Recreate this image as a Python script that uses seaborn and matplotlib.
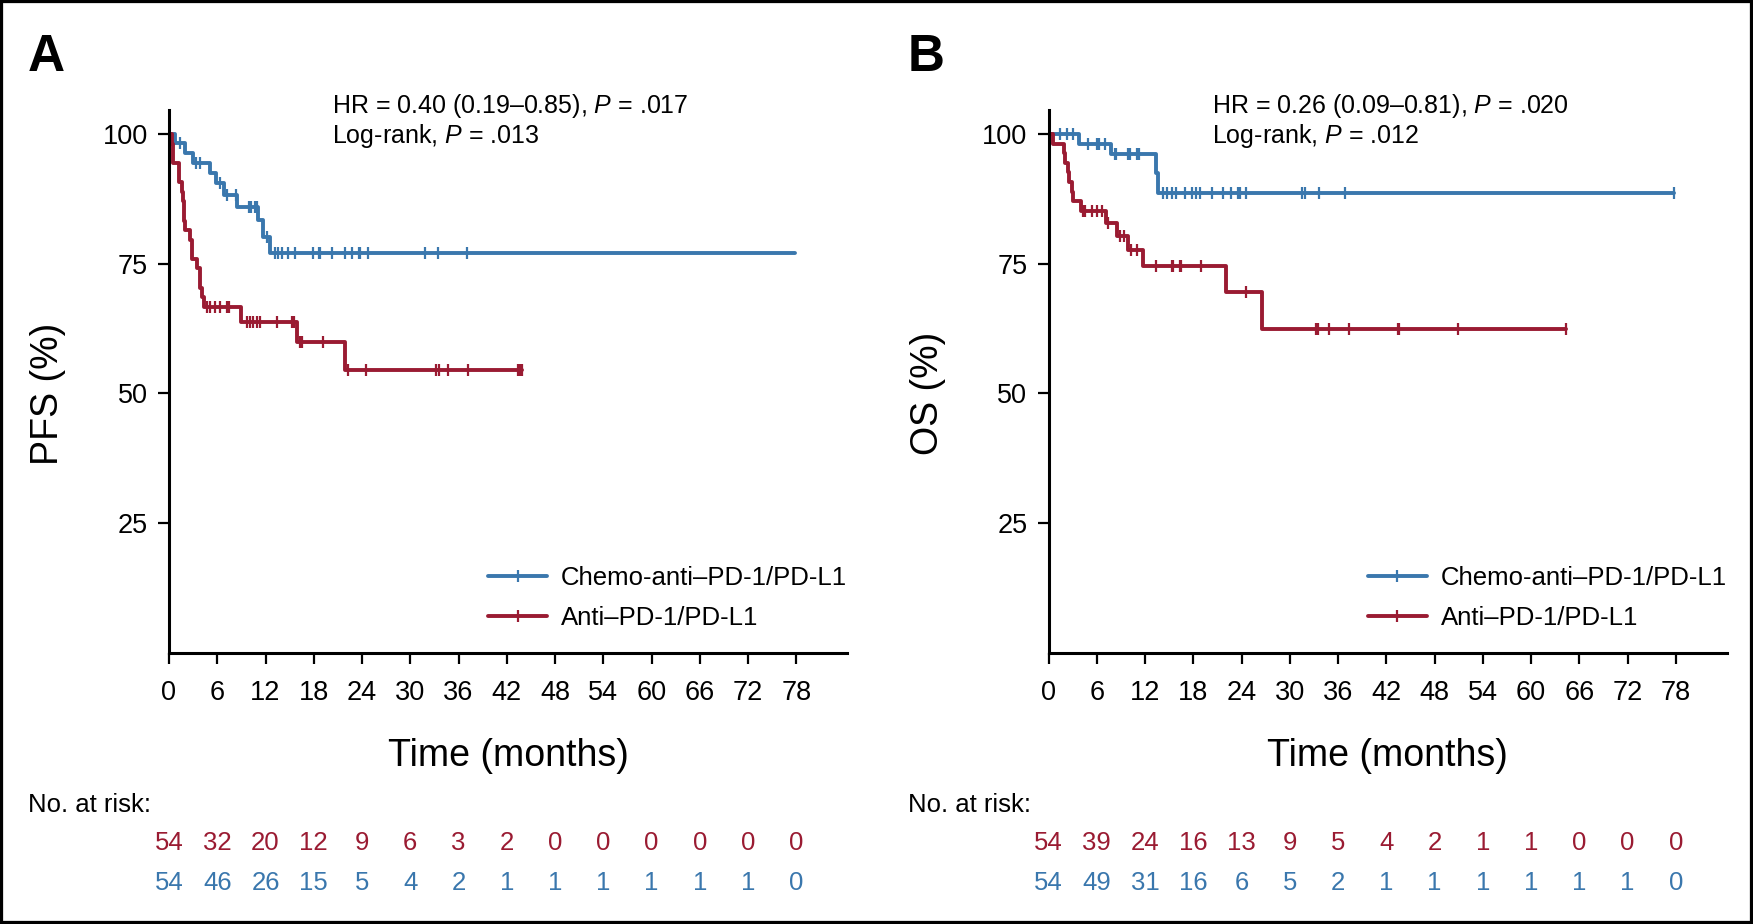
import numpy as np
import matplotlib
matplotlib.use("Agg")
import matplotlib.pyplot as plt
import matplotlib.transforms as mtransforms
from matplotlib.lines import Line2D
from matplotlib.patches import Rectangle
from matplotlib import font_manager
import seaborn as sns

# ---------------- data ----------------
time_ticks = list(range(0, 79, 6))
y_ticks = [25, 50, 75, 100]

# Panel A (PFS)
pfs_chemo_event_t = [0.75, 2.0, 3.0, 5.1, 5.8, 6.8, 8.5, 11.1, 11.7, 12.6]
pfs_chemo_event_s = [98.2, 96.3, 94.4, 92.5, 90.6, 88.3, 86.0, 83.4, 80.2, 77.0]
pfs_chemo_end = 77.8
pfs_chemo_cens = [1.4, 3.4, 3.9, 6.3, 7.2, 8.3, 9.9, 10.2, 10.7, 11.0, 12.2,
                  13.2, 13.6, 14.0, 14.8, 15.7, 17.9, 18.6, 18.8, 20.3, 21.9,
                  22.7, 23.6, 23.8, 24.8, 31.8, 33.5, 37.0]

pfs_anti_event_t = [0.4, 0.5, 1.2, 1.6, 1.7, 1.9, 2.0, 2.6, 2.9, 3.5, 3.8, 4.1, 4.3,
                    9.0, 15.9, 21.9]
pfs_anti_event_s = [98.1, 94.4, 90.7, 88.9, 87.0, 83.3, 81.5, 79.6, 75.9, 74.1, 70.4,
                    68.5, 66.7, 63.8, 60.0, 54.5]
pfs_anti_end = 43.9
pfs_anti_cens = [4.7, 5.1, 5.7, 6.3, 7.2, 7.4, 9.7, 10.1, 10.5, 10.9, 11.3, 13.4,
                 15.3, 15.5, 16.3, 16.5, 19.1, 22.3, 24.5, 33.2, 33.6, 34.7, 37.2,
                 43.4, 43.6, 43.9]

# Panel B (OS)
os_chemo_event_t = [3.8, 7.8, 13.4, 13.6]
os_chemo_event_s = [98.1, 96.2, 92.4, 88.6]
os_chemo_end = 77.8
os_chemo_cens = [1.4, 2.3, 3.1, 4.9, 6.0, 6.3, 7.0, 8.3, 8.4, 9.9, 10.1, 11.0, 11.2,
                 14.2, 14.7, 15.3, 15.9, 17.0, 17.8, 18.4, 18.8, 20.3, 21.7, 22.7,
                 23.5, 23.8, 24.6, 31.5, 31.9, 33.6, 36.9, 77.8]

os_anti_event_t = [0.5, 1.9, 2.1, 2.4, 2.5, 2.9, 3.0, 4.0, 7.2, 8.5, 9.9, 11.7, 22.1, 26.5]
os_anti_event_s = [98.1, 96.3, 94.4, 92.6, 90.7, 88.9, 87.0, 85.1, 82.9, 80.4, 77.6,
                   74.5, 69.6, 62.5]
os_anti_end = 64.3
os_anti_cens = [4.3, 4.5, 5.4, 6.0, 6.7, 7.4, 8.9, 9.4, 10.3, 11.0, 13.4, 15.3, 15.5,
                16.3, 16.5, 19.0, 24.5, 33.3, 33.5, 34.9, 37.4, 43.4, 43.6, 50.9, 64.3]

# Numbers at risk
pfs_risk_anti = [54, 32, 20, 12, 9, 6, 3, 2, 0, 0, 0, 0, 0, 0]
pfs_risk_chemo = [54, 46, 26, 15, 5, 4, 2, 1, 1, 1, 1, 1, 1, 0]
os_risk_anti = [54, 39, 24, 16, 13, 9, 5, 4, 2, 1, 1, 0, 0, 0]
os_risk_chemo = [54, 49, 31, 16, 6, 5, 2, 1, 1, 1, 1, 1, 1, 0]

label_chemo = "Chemo-anti\u2013PD-1/PD-L1"
label_anti = "Anti\u2013PD-1/PD-L1"
pfs_stats = ["HR = 0.40 (0.19\u20130.85), $\\it{P}$ = .017", "Log-rank, $\\it{P}$ = .013"]
os_stats = ["HR = 0.26 (0.09\u20130.81), $\\it{P}$ = .020", "Log-rank, $\\it{P}$ = .012"]

BLUE = "#3a77ad"
RED = "#9a1b32"

# ---------------- style ----------------
sns.set_theme(style="ticks")


def has_font(name):
    try:
        font_manager.findfont(font_manager.FontProperties(family=name), fallback_to_default=False)
        return True
    except Exception:
        return False


BASE = "Liberation Sans" if has_font("Liberation Sans") else "DejaVu Sans"
NARROW = "Liberation Sans Narrow" if has_font("Liberation Sans Narrow") else BASE
plt.rcParams["font.family"] = [BASE, "DejaVu Sans"]
plt.rcParams["mathtext.fontset"] = "custom"
plt.rcParams["mathtext.rm"] = BASE
plt.rcParams["mathtext.it"] = BASE + ":italic"
plt.rcParams["text.color"] = "black"
plt.rcParams["axes.labelcolor"] = "black"
plt.rcParams["legend.labelcolor"] = "black"

W, H = 1753, 924
fig = plt.figure(figsize=(W / 100, H / 100), dpi=100)
fig.patch.set_facecolor("white")

LABEL_SIZE = 30 if NARROW != BASE else 27


def px_axes(left, right, top, bottom):
    return fig.add_axes([left / W, 1 - bottom / H, (right - left) / W, (bottom - top) / H])


def step_data(ev_t, ev_s, end):
    xs = np.concatenate([[0.0], np.asarray(ev_t, float), [end]])
    ys = np.concatenate([[100.0], np.asarray(ev_s, float), [ev_s[-1]]])
    return xs, ys


def surv_at(ev_t, ev_s, t):
    t = np.asarray(t, float)
    idx = np.searchsorted(np.asarray(ev_t, float), t, side="right")
    levels = np.concatenate([[100.0], np.asarray(ev_s, float)])
    return levels[idx]


def draw_curve(ax, ev_t, ev_s, end, cens, color):
    xs, ys = step_data(ev_t, ev_s, end)
    sns.lineplot(x=xs, y=ys, drawstyle="steps-post", color=color, lw=2.8,
                 estimator=None, sort=False, ax=ax)
    cy = surv_at(ev_t, ev_s, cens)
    sns.scatterplot(x=np.asarray(cens, float), y=cy, marker="|", s=75,
                    linewidth=1.6, color=color, ax=ax, zorder=3)


def panel(ax, letter, letter_x, ylabel, stats, curves, risk_anti, risk_chemo):
    for ev_t, ev_s, end, cens, color in curves:
        draw_curve(ax, ev_t, ev_s, end, cens, color)
    ax.set_xlim(0, 84.3)
    ax.set_ylim(0, 104.7)
    ax.set_xticks(time_ticks)
    ax.set_xticklabels([str(t) for t in time_ticks])
    ax.set_yticks(y_ticks)
    ax.set_yticklabels([str(t) for t in y_ticks])
    ax.set_xlabel("")
    ax.set_ylabel("")
    for s in ["top", "right"]:
        ax.spines[s].set_visible(False)
    for s in ["left", "bottom"]:
        ax.spines[s].set_linewidth(2.2)
        ax.spines[s].set_color("black")
    ax.tick_params(axis="both", direction="out", length=8.2, width=1.6,
                   labelsize=19.5, colors="black")
    ax.tick_params(axis="x", pad=11)
    ax.tick_params(axis="y", pad=7)
    ax.grid(False)

    tr_x_fig = mtransforms.blended_transform_factory(ax.transData, fig.transFigure)
    tr_ax_fig = mtransforms.blended_transform_factory(ax.transAxes, fig.transFigure)
    tr_fig_data = mtransforms.blended_transform_factory(fig.transFigure, ax.transData)

    ax.text(20.3, 1 - 106 / H, stats[0], transform=tr_x_fig, fontsize=18,
            ha="left", va="center")
    ax.text(20.3, 1 - 136 / H, stats[1], transform=tr_x_fig, fontsize=18,
            ha="left", va="center")

    ax.text(0.5, 1 - 756 / H, "Time (months)", transform=tr_ax_fig, fontsize=LABEL_SIZE,
            ha="center", va="center", family=[NARROW, "DejaVu Sans"])
    fig.text(letter_x + 20 / W, 50, ylabel, transform=tr_fig_data, fontsize=LABEL_SIZE,
             rotation=90, ha="center", va="center", family=[NARROW, "DejaVu Sans"])
    fig.text(letter_x, 1 - 33 / H, letter, fontsize=37, fontweight="bold",
             ha="left", va="top")
    fig.text(letter_x, 1 - 805 / H, "No. at risk:", fontsize=18.5, ha="left", va="center")

    for t, n in zip(time_ticks, risk_anti):
        ax.text(t, 1 - 843 / H, str(n), transform=tr_x_fig, color=RED, fontsize=18.5,
                ha="center", va="center")
    for t, n in zip(time_ticks, risk_chemo):
        ax.text(t, 1 - 883 / H, str(n), transform=tr_x_fig, color=BLUE, fontsize=18.5,
                ha="center", va="center")

    handles = [Line2D([], [], color=BLUE, lw=2.8, marker="|", markersize=9, markeredgewidth=1.6),
               Line2D([], [], color=RED, lw=2.8, marker="|", markersize=9, markeredgewidth=1.6)]
    ax.legend(handles, [label_chemo, label_anti], loc="upper left",
              bbox_to_anchor=((488 - 169) / 678, (653 - 566) / 543.4),
              frameon=False, fontsize=18.5, handlelength=2.3, handletextpad=0.55,
              labelspacing=0.62, borderpad=0, borderaxespad=0, numpoints=1)


axA = px_axes(169, 847, 109.6, 653)
axB = px_axes(1048.5, 1726.5, 109.6, 653)

panel(axA, "A", 28 / W, "PFS (%)", pfs_stats,
      [(pfs_chemo_event_t, pfs_chemo_event_s, pfs_chemo_end, pfs_chemo_cens, BLUE),
       (pfs_anti_event_t, pfs_anti_event_s, pfs_anti_end, pfs_anti_cens, RED)],
      pfs_risk_anti, pfs_risk_chemo)
panel(axB, "B", 908 / W, "OS (%)", os_stats,
      [(os_chemo_event_t, os_chemo_event_s, os_chemo_end, os_chemo_cens, BLUE),
       (os_anti_event_t, os_anti_event_s, os_anti_end, os_anti_cens, RED)],
      os_risk_anti, os_risk_chemo)

fig.patches.append(Rectangle((0, 0), 1, 1, transform=fig.transFigure, fill=False,
                             edgecolor="black", linewidth=4.5, zorder=10))

fig.savefig("out.png", dpi=100, facecolor="white")
